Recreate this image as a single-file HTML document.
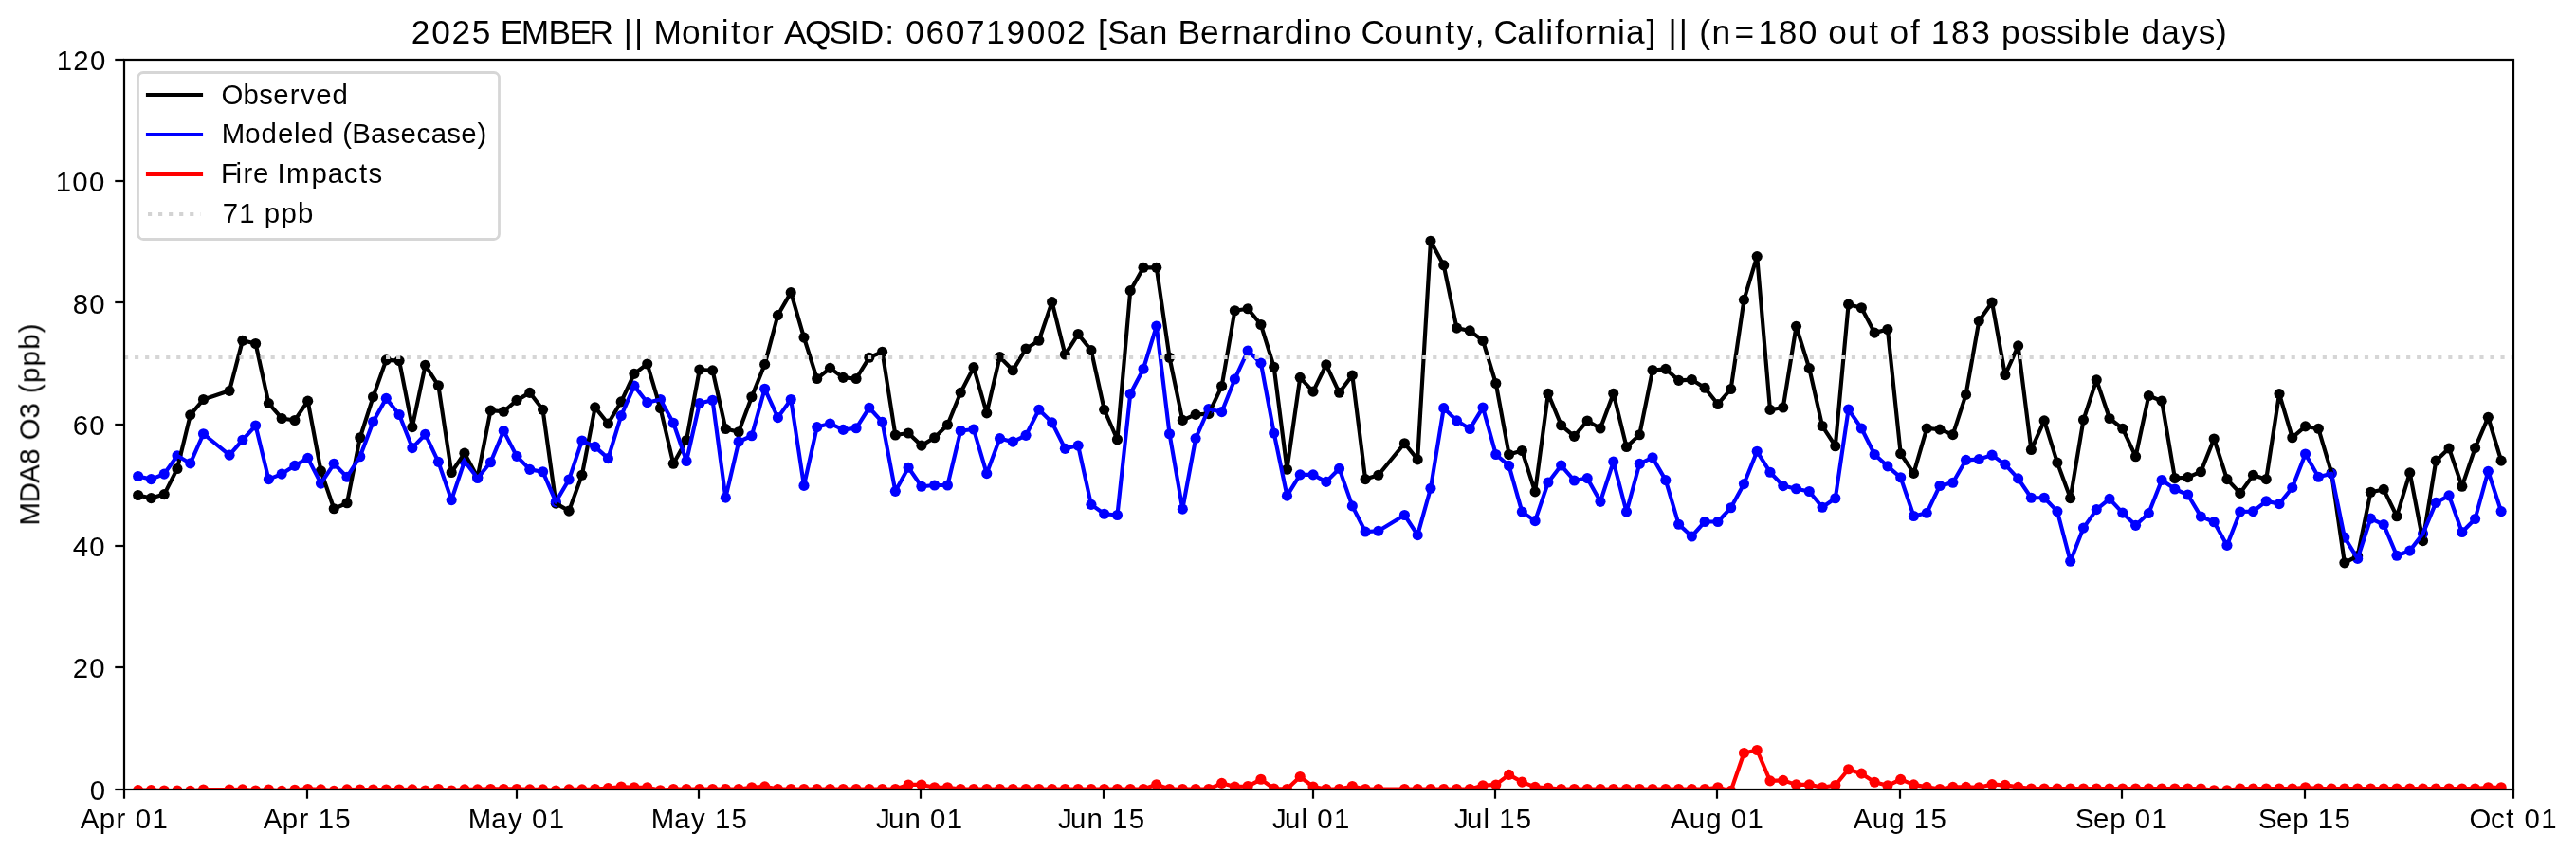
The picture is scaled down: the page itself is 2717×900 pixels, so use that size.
<!DOCTYPE html>
<html lang="en">
<head>
<meta charset="utf-8">
<title>2025 EMBER - Monitor AQSID 060719002 - MDA8 O3</title>
<style>
html,body{margin:0;padding:0;background:#fff;}
body{width:2717px;height:900px;overflow:hidden;font-family:"Liberation Sans",sans-serif;}
svg{display:block;}
text{font-family:"Liberation Sans",sans-serif;fill:#000;}
.ln{fill:none;stroke-width:4.17;stroke-linejoin:round;stroke-linecap:square;}
.sp{stroke:#000;stroke-width:2.22;fill:none;stroke-linecap:square;}
.tk{stroke:#000;stroke-width:2.22;fill:none;stroke-linecap:butt;}
</style>
</head>
<body>
<svg width="2717" height="900" viewBox="0 0 2717 900">
<rect x="0" y="0" width="2717" height="900" fill="#fff"/>
<defs><clipPath id="ax"><rect x="131" y="63" width="2520" height="770"/></clipPath></defs>
<g clip-path="url(#ax)">
<g id="obs-pts" fill="#000000"><circle cx="145.67" cy="522.46" r="5.56"/><circle cx="159.44" cy="525.6" r="5.56"/><circle cx="173.21" cy="521.62" r="5.56"/><circle cx="186.98" cy="494.5" r="5.56"/><circle cx="200.75" cy="437.87" r="5.56"/><circle cx="214.52" cy="421.52" r="5.56"/><circle cx="242.06" cy="412.35" r="5.56"/><circle cx="255.83" cy="359.32" r="5.56"/><circle cx="269.6" cy="362.53" r="5.56"/><circle cx="283.38" cy="425.56" r="5.56"/><circle cx="297.15" cy="441.47" r="5.56"/><circle cx="310.92" cy="443.45" r="5.56"/><circle cx="324.69" cy="423.13" r="5.56"/><circle cx="338.46" cy="496.93" r="5.56"/><circle cx="352.23" cy="536.76" r="5.56"/><circle cx="366" cy="530.79" r="5.56"/><circle cx="379.77" cy="461.79" r="5.56"/><circle cx="393.54" cy="418.77" r="5.56"/><circle cx="407.31" cy="379.84" r="5.56"/><circle cx="421.08" cy="380.61" r="5.56"/><circle cx="434.85" cy="450.64" r="5.56"/><circle cx="448.62" cy="385.29" r="5.56"/><circle cx="462.39" cy="406.77" r="5.56"/><circle cx="476.16" cy="498.47" r="5.56"/><circle cx="489.93" cy="478.15" r="5.56"/><circle cx="503.7" cy="503.54" r="5.56"/><circle cx="517.47" cy="433.13" r="5.56"/><circle cx="531.24" cy="434.28" r="5.56"/><circle cx="545.01" cy="422.36" r="5.56"/><circle cx="558.79" cy="414.34" r="5.56"/><circle cx="572.56" cy="432.3" r="5.56"/><circle cx="586.33" cy="531.18" r="5.56"/><circle cx="600.1" cy="539.13" r="5.56"/><circle cx="613.87" cy="501.23" r="5.56"/><circle cx="627.64" cy="429.86" r="5.56"/><circle cx="641.41" cy="446.98" r="5.56"/><circle cx="655.18" cy="423.9" r="5.56"/><circle cx="668.95" cy="394.4" r="5.56"/><circle cx="682.72" cy="384.01" r="5.56"/><circle cx="696.49" cy="430.63" r="5.56"/><circle cx="710.26" cy="489.24" r="5.56"/><circle cx="724.03" cy="464.55" r="5.56"/><circle cx="737.8" cy="389.97" r="5.56"/><circle cx="751.57" cy="390.81" r="5.56"/><circle cx="765.34" cy="452.56" r="5.56"/><circle cx="779.11" cy="455.77" r="5.56"/><circle cx="792.88" cy="418.7" r="5.56"/><circle cx="806.65" cy="384.39" r="5.56"/><circle cx="820.42" cy="332.58" r="5.56"/><circle cx="834.2" cy="308.66" r="5.56"/><circle cx="847.97" cy="356.12" r="5.56"/><circle cx="861.74" cy="399.53" r="5.56"/><circle cx="875.51" cy="388.37" r="5.56"/><circle cx="889.28" cy="398.37" r="5.56"/><circle cx="903.05" cy="399.53" r="5.56"/><circle cx="916.82" cy="377.21" r="5.56"/><circle cx="930.59" cy="371.25" r="5.56"/><circle cx="944.36" cy="458.97" r="5.56"/><circle cx="958.13" cy="456.98" r="5.56"/><circle cx="971.9" cy="470.13" r="5.56"/><circle cx="985.67" cy="461.73" r="5.56"/><circle cx="999.44" cy="448.2" r="5.56"/><circle cx="1013.21" cy="414.28" r="5.56"/><circle cx="1026.98" cy="387.6" r="5.56"/><circle cx="1040.75" cy="435.82" r="5.56"/><circle cx="1054.52" cy="376.44" r="5.56"/><circle cx="1068.29" cy="390.81" r="5.56"/><circle cx="1082.06" cy="368.04" r="5.56"/><circle cx="1095.83" cy="359.26" r="5.56"/><circle cx="1109.6" cy="318.6" r="5.56"/><circle cx="1123.38" cy="374.01" r="5.56"/><circle cx="1137.15" cy="352.52" r="5.56"/><circle cx="1150.92" cy="369.65" r="5.56"/><circle cx="1164.69" cy="432.23" r="5.56"/><circle cx="1178.46" cy="463.72" r="5.56"/><circle cx="1192.23" cy="306.68" r="5.56"/><circle cx="1206" cy="282.31" r="5.56"/><circle cx="1219.77" cy="282.31" r="5.56"/><circle cx="1233.54" cy="377.21" r="5.56"/><circle cx="1247.31" cy="443.39" r="5.56"/><circle cx="1261.08" cy="437.43" r="5.56"/><circle cx="1274.85" cy="436.66" r="5.56"/><circle cx="1288.62" cy="407.54" r="5.56"/><circle cx="1302.39" cy="327.77" r="5.56"/><circle cx="1316.16" cy="325.78" r="5.56"/><circle cx="1329.93" cy="342.52" r="5.56"/><circle cx="1343.7" cy="387.22" r="5.56"/><circle cx="1357.47" cy="495.27" r="5.56"/><circle cx="1371.24" cy="398.37" r="5.56"/><circle cx="1385.01" cy="413.12" r="5.56"/><circle cx="1398.79" cy="384.78" r="5.56"/><circle cx="1412.56" cy="414.28" r="5.56"/><circle cx="1426.33" cy="395.94" r="5.56"/><circle cx="1440.1" cy="505.59" r="5.56"/><circle cx="1453.87" cy="501.23" r="5.56"/><circle cx="1481.41" cy="467.76" r="5.56"/><circle cx="1495.18" cy="484.88" r="5.56"/><circle cx="1508.95" cy="254.28" r="5.56"/><circle cx="1522.72" cy="279.93" r="5.56"/><circle cx="1536.49" cy="346.11" r="5.56"/><circle cx="1550.26" cy="348.93" r="5.56"/><circle cx="1564.03" cy="359.45" r="5.56"/><circle cx="1577.8" cy="404.53" r="5.56"/><circle cx="1591.57" cy="479.49" r="5.56"/><circle cx="1605.34" cy="475.52" r="5.56"/><circle cx="1619.11" cy="518.93" r="5.56"/><circle cx="1632.88" cy="415.3" r="5.56"/><circle cx="1646.65" cy="448.78" r="5.56"/><circle cx="1660.42" cy="460.32" r="5.56"/><circle cx="1674.2" cy="443.97" r="5.56"/><circle cx="1687.97" cy="451.98" r="5.56"/><circle cx="1701.74" cy="415.3" r="5.56"/><circle cx="1715.51" cy="471.48" r="5.56"/><circle cx="1729.28" cy="458.78" r="5.56"/><circle cx="1743.05" cy="390.55" r="5.56"/><circle cx="1756.82" cy="389.4" r="5.56"/><circle cx="1770.59" cy="401.32" r="5.56"/><circle cx="1784.36" cy="400.55" r="5.56"/><circle cx="1798.13" cy="409.28" r="5.56"/><circle cx="1811.9" cy="426.46" r="5.56"/><circle cx="1825.67" cy="410.49" r="5.56"/><circle cx="1839.44" cy="316.42" r="5.56"/><circle cx="1853.21" cy="270.57" r="5.56"/><circle cx="1866.98" cy="432.42" r="5.56"/><circle cx="1880.75" cy="430.05" r="5.56"/><circle cx="1894.52" cy="344.32" r="5.56"/><circle cx="1908.29" cy="388.56" r="5.56"/><circle cx="1922.06" cy="449.55" r="5.56"/><circle cx="1935.83" cy="470.71" r="5.56"/><circle cx="1949.6" cy="321.17" r="5.56"/><circle cx="1963.38" cy="324.76" r="5.56"/><circle cx="1977.15" cy="351.11" r="5.56"/><circle cx="1990.92" cy="347.52" r="5.56"/><circle cx="2004.69" cy="478.66" r="5.56"/><circle cx="2018.46" cy="499.43" r="5.56"/><circle cx="2032.23" cy="451.98" r="5.56"/><circle cx="2046" cy="453.07" r="5.56"/><circle cx="2059.77" cy="458.65" r="5.56"/><circle cx="2073.54" cy="416.39" r="5.56"/><circle cx="2087.31" cy="338.61" r="5.56"/><circle cx="2101.08" cy="319.05" r="5.56"/><circle cx="2114.85" cy="395.62" r="5.56"/><circle cx="2128.62" cy="364.9" r="5.56"/><circle cx="2142.39" cy="474.55" r="5.56"/><circle cx="2156.16" cy="443.9" r="5.56"/><circle cx="2169.93" cy="488.15" r="5.56"/><circle cx="2183.7" cy="525.6" r="5.56"/><circle cx="2197.47" cy="443.07" r="5.56"/><circle cx="2211.24" cy="400.81" r="5.56"/><circle cx="2225.01" cy="441.47" r="5.56"/><circle cx="2238.79" cy="452.24" r="5.56"/><circle cx="2252.56" cy="481.74" r="5.56"/><circle cx="2266.33" cy="417.55" r="5.56"/><circle cx="2280.1" cy="423.13" r="5.56"/><circle cx="2293.87" cy="504.5" r="5.56"/><circle cx="2307.64" cy="503.67" r="5.56"/><circle cx="2321.41" cy="497.7" r="5.56"/><circle cx="2335.18" cy="463.01" r="5.56"/><circle cx="2348.95" cy="505.65" r="5.56"/><circle cx="2362.72" cy="520.4" r="5.56"/><circle cx="2376.49" cy="501.29" r="5.56"/><circle cx="2390.26" cy="505.65" r="5.56"/><circle cx="2404.03" cy="415.56" r="5.56"/><circle cx="2417.8" cy="461.79" r="5.56"/><circle cx="2431.57" cy="449.87" r="5.56"/><circle cx="2445.34" cy="452.24" r="5.56"/><circle cx="2459.11" cy="498.92" r="5.56"/><circle cx="2472.88" cy="593.83" r="5.56"/><circle cx="2486.65" cy="586.64" r="5.56"/><circle cx="2500.42" cy="519.25" r="5.56"/><circle cx="2514.2" cy="516.43" r="5.56"/><circle cx="2527.97" cy="544.77" r="5.56"/><circle cx="2541.74" cy="498.92" r="5.56"/><circle cx="2555.51" cy="570.68" r="5.56"/><circle cx="2569.28" cy="486.16" r="5.56"/><circle cx="2583.05" cy="472.95" r="5.56"/><circle cx="2596.82" cy="513.22" r="5.56"/><circle cx="2610.59" cy="472.57" r="5.56"/><circle cx="2624.36" cy="440.31" r="5.56"/><circle cx="2638.13" cy="486.16" r="5.56"/></g>
<g id="mod-pts" fill="#0000ff"><circle cx="145.67" cy="502.51" r="5.56"/><circle cx="159.44" cy="505.65" r="5.56"/><circle cx="173.21" cy="500.08" r="5.56"/><circle cx="186.98" cy="480.77" r="5.56"/><circle cx="200.75" cy="488.92" r="5.56"/><circle cx="214.52" cy="457.75" r="5.56"/><circle cx="242.06" cy="480.13" r="5.56"/><circle cx="255.83" cy="464.23" r="5.56"/><circle cx="269.6" cy="449.03" r="5.56"/><circle cx="283.38" cy="505.65" r="5.56"/><circle cx="297.15" cy="500.08" r="5.56"/><circle cx="310.92" cy="491.36" r="5.56"/><circle cx="324.69" cy="483.34" r="5.56"/><circle cx="338.46" cy="510.08" r="5.56"/><circle cx="352.23" cy="489.3" r="5.56"/><circle cx="366" cy="503.28" r="5.56"/><circle cx="379.77" cy="481.74" r="5.56"/><circle cx="393.54" cy="445.06" r="5.56"/><circle cx="407.31" cy="420.37" r="5.56"/><circle cx="421.08" cy="437.49" r="5.56"/><circle cx="434.85" cy="472.57" r="5.56"/><circle cx="448.62" cy="458.2" r="5.56"/><circle cx="462.39" cy="487.32" r="5.56"/><circle cx="476.16" cy="527.59" r="5.56"/><circle cx="489.93" cy="486.55" r="5.56"/><circle cx="503.7" cy="504.5" r="5.56"/><circle cx="517.47" cy="487.76" r="5.56"/><circle cx="531.24" cy="454.61" r="5.56"/><circle cx="545.01" cy="481.35" r="5.56"/><circle cx="558.79" cy="495.33" r="5.56"/><circle cx="572.56" cy="497.7" r="5.56"/><circle cx="586.33" cy="529.57" r="5.56"/><circle cx="600.1" cy="506.04" r="5.56"/><circle cx="613.87" cy="464.94" r="5.56"/><circle cx="627.64" cy="471.35" r="5.56"/><circle cx="641.41" cy="483.66" r="5.56"/><circle cx="655.18" cy="438.64" r="5.56"/><circle cx="668.95" cy="407.16" r="5.56"/><circle cx="682.72" cy="424.67" r="5.56"/><circle cx="696.49" cy="421.46" r="5.56"/><circle cx="710.26" cy="446.21" r="5.56"/><circle cx="724.03" cy="486.48" r="5.56"/><circle cx="737.8" cy="425.5" r="5.56"/><circle cx="751.57" cy="422.29" r="5.56"/><circle cx="765.34" cy="525.15" r="5.56"/><circle cx="779.11" cy="466.15" r="5.56"/><circle cx="792.88" cy="459.74" r="5.56"/><circle cx="806.65" cy="410.3" r="5.56"/><circle cx="820.42" cy="440.63" r="5.56"/><circle cx="834.2" cy="421.46" r="5.56"/><circle cx="847.97" cy="512.39" r="5.56"/><circle cx="861.74" cy="450.57" r="5.56"/><circle cx="875.51" cy="446.98" r="5.56"/><circle cx="889.28" cy="453.39" r="5.56"/><circle cx="903.05" cy="451.79" r="5.56"/><circle cx="916.82" cy="430.24" r="5.56"/><circle cx="930.59" cy="445.38" r="5.56"/><circle cx="944.36" cy="518.35" r="5.56"/><circle cx="958.13" cy="493.28" r="5.56"/><circle cx="971.9" cy="513.22" r="5.56"/><circle cx="985.67" cy="512" r="5.56"/><circle cx="999.44" cy="512" r="5.56"/><circle cx="1013.21" cy="454.55" r="5.56"/><circle cx="1026.98" cy="453.01" r="5.56"/><circle cx="1040.75" cy="499.63" r="5.56"/><circle cx="1054.52" cy="462.56" r="5.56"/><circle cx="1068.29" cy="466.15" r="5.56"/><circle cx="1082.06" cy="459.36" r="5.56"/><circle cx="1095.83" cy="432.23" r="5.56"/><circle cx="1109.6" cy="445.83" r="5.56"/><circle cx="1123.38" cy="473.34" r="5.56"/><circle cx="1137.15" cy="470.13" r="5.56"/><circle cx="1150.92" cy="532.33" r="5.56"/><circle cx="1164.69" cy="542.27" r="5.56"/><circle cx="1178.46" cy="543.49" r="5.56"/><circle cx="1192.23" cy="415.5" r="5.56"/><circle cx="1206" cy="389.2" r="5.56"/><circle cx="1219.77" cy="344.12" r="5.56"/><circle cx="1233.54" cy="457.75" r="5.56"/><circle cx="1247.31" cy="537.14" r="5.56"/><circle cx="1261.08" cy="462.56" r="5.56"/><circle cx="1274.85" cy="431.46" r="5.56"/><circle cx="1288.62" cy="434.67" r="5.56"/><circle cx="1302.39" cy="399.98" r="5.56"/><circle cx="1316.16" cy="370.03" r="5.56"/><circle cx="1329.93" cy="383.18" r="5.56"/><circle cx="1343.7" cy="456.98" r="5.56"/><circle cx="1357.47" cy="523.16" r="5.56"/><circle cx="1371.24" cy="500.85" r="5.56"/><circle cx="1385.01" cy="500.85" r="5.56"/><circle cx="1398.79" cy="508.41" r="5.56"/><circle cx="1412.56" cy="494.43" r="5.56"/><circle cx="1426.33" cy="533.93" r="5.56"/><circle cx="1440.1" cy="561.06" r="5.56"/><circle cx="1453.87" cy="560.23" r="5.56"/><circle cx="1481.41" cy="543.49" r="5.56"/><circle cx="1495.18" cy="564.65" r="5.56"/><circle cx="1508.95" cy="515.21" r="5.56"/><circle cx="1522.72" cy="430.63" r="5.56"/><circle cx="1536.49" cy="443.84" r="5.56"/><circle cx="1550.26" cy="452.56" r="5.56"/><circle cx="1564.03" cy="430.05" r="5.56"/><circle cx="1577.8" cy="479.49" r="5.56"/><circle cx="1591.57" cy="491.42" r="5.56"/><circle cx="1605.34" cy="540.09" r="5.56"/><circle cx="1619.11" cy="549.64" r="5.56"/><circle cx="1632.88" cy="508.99" r="5.56"/><circle cx="1646.65" cy="491.03" r="5.56"/><circle cx="1660.42" cy="507" r="5.56"/><circle cx="1674.2" cy="504.63" r="5.56"/><circle cx="1687.97" cy="529.32" r="5.56"/><circle cx="1701.74" cy="487.06" r="5.56"/><circle cx="1715.51" cy="540.09" r="5.56"/><circle cx="1729.28" cy="489.43" r="5.56"/><circle cx="1743.05" cy="482.7" r="5.56"/><circle cx="1756.82" cy="506.62" r="5.56"/><circle cx="1770.59" cy="553.24" r="5.56"/><circle cx="1784.36" cy="566" r="5.56"/><circle cx="1798.13" cy="550.48" r="5.56"/><circle cx="1811.9" cy="550.48" r="5.56"/><circle cx="1825.67" cy="535.73" r="5.56"/><circle cx="1839.44" cy="510.59" r="5.56"/><circle cx="1853.21" cy="476.29" r="5.56"/><circle cx="1866.98" cy="498.22" r="5.56"/><circle cx="1880.75" cy="512.58" r="5.56"/><circle cx="1894.52" cy="515.79" r="5.56"/><circle cx="1908.29" cy="518.54" r="5.56"/><circle cx="1922.06" cy="535.28" r="5.56"/><circle cx="1935.83" cy="525.73" r="5.56"/><circle cx="1949.6" cy="432.04" r="5.56"/><circle cx="1963.38" cy="451.98" r="5.56"/><circle cx="1977.15" cy="479.49" r="5.56"/><circle cx="1990.92" cy="491.87" r="5.56"/><circle cx="2004.69" cy="503.8" r="5.56"/><circle cx="2018.46" cy="544.45" r="5.56"/><circle cx="2032.23" cy="541.31" r="5.56"/><circle cx="2046" cy="512.45" r="5.56"/><circle cx="2059.77" cy="509.25" r="5.56"/><circle cx="2073.54" cy="485.33" r="5.56"/><circle cx="2087.31" cy="484.56" r="5.56"/><circle cx="2101.08" cy="480.13" r="5.56"/><circle cx="2114.85" cy="490.14" r="5.56"/><circle cx="2128.62" cy="504.89" r="5.56"/><circle cx="2142.39" cy="525.21" r="5.56"/><circle cx="2156.16" cy="525.21" r="5.56"/><circle cx="2169.93" cy="539.58" r="5.56"/><circle cx="2183.7" cy="592.22" r="5.56"/><circle cx="2197.47" cy="557.08" r="5.56"/><circle cx="2211.24" cy="537.59" r="5.56"/><circle cx="2225.01" cy="526.43" r="5.56"/><circle cx="2238.79" cy="541.18" r="5.56"/><circle cx="2252.56" cy="554.33" r="5.56"/><circle cx="2266.33" cy="541.56" r="5.56"/><circle cx="2280.1" cy="506.49" r="5.56"/><circle cx="2293.87" cy="516.04" r="5.56"/><circle cx="2307.64" cy="522.01" r="5.56"/><circle cx="2321.41" cy="545.16" r="5.56"/><circle cx="2335.18" cy="550.73" r="5.56"/><circle cx="2348.95" cy="575.42" r="5.56"/><circle cx="2362.72" cy="539.96" r="5.56"/><circle cx="2376.49" cy="539.58" r="5.56"/><circle cx="2390.26" cy="528.8" r="5.56"/><circle cx="2404.03" cy="531.63" r="5.56"/><circle cx="2417.8" cy="514.44" r="5.56"/><circle cx="2431.57" cy="478.98" r="5.56"/><circle cx="2445.34" cy="503.28" r="5.56"/><circle cx="2459.11" cy="499.69" r="5.56"/><circle cx="2472.88" cy="567.09" r="5.56"/><circle cx="2486.65" cy="589.4" r="5.56"/><circle cx="2500.42" cy="547.14" r="5.56"/><circle cx="2514.2" cy="553.56" r="5.56"/><circle cx="2527.97" cy="586.2" r="5.56"/><circle cx="2541.74" cy="581.07" r="5.56"/><circle cx="2555.51" cy="563.11" r="5.56"/><circle cx="2569.28" cy="530.41" r="5.56"/><circle cx="2583.05" cy="522.84" r="5.56"/><circle cx="2596.82" cy="561.51" r="5.56"/><circle cx="2610.59" cy="547.53" r="5.56"/><circle cx="2624.36" cy="497.32" r="5.56"/><circle cx="2638.13" cy="539.58" r="5.56"/></g>
<g id="fire-pts" fill="#ff0000"><circle cx="145.67" cy="833.59" r="5.56"/><circle cx="159.44" cy="833.59" r="5.56"/><circle cx="173.21" cy="834.04" r="5.56"/><circle cx="186.98" cy="834.04" r="5.56"/><circle cx="200.75" cy="834.42" r="5.56"/><circle cx="214.52" cy="833.01" r="5.56"/><circle cx="242.06" cy="833.01" r="5.56"/><circle cx="255.83" cy="832.82" r="5.56"/><circle cx="269.6" cy="834.04" r="5.56"/><circle cx="283.38" cy="833.01" r="5.56"/><circle cx="297.15" cy="834.42" r="5.56"/><circle cx="310.92" cy="833.21" r="5.56"/><circle cx="324.69" cy="832.44" r="5.56"/><circle cx="338.46" cy="832.82" r="5.56"/><circle cx="352.23" cy="834.42" r="5.56"/><circle cx="366" cy="832.82" r="5.56"/><circle cx="379.77" cy="833.01" r="5.56"/><circle cx="393.54" cy="833.01" r="5.56"/><circle cx="407.31" cy="833.01" r="5.56"/><circle cx="421.08" cy="833.01" r="5.56"/><circle cx="434.85" cy="832.82" r="5.56"/><circle cx="448.62" cy="834.04" r="5.56"/><circle cx="462.39" cy="832.44" r="5.56"/><circle cx="476.16" cy="834.04" r="5.56"/><circle cx="489.93" cy="832.82" r="5.56"/><circle cx="503.7" cy="832.82" r="5.56"/><circle cx="517.47" cy="832.44" r="5.56"/><circle cx="531.24" cy="832.44" r="5.56"/><circle cx="545.01" cy="832.44" r="5.56"/><circle cx="558.79" cy="832.82" r="5.56"/><circle cx="572.56" cy="832.82" r="5.56"/><circle cx="586.33" cy="834.04" r="5.56"/><circle cx="600.1" cy="832.82" r="5.56"/><circle cx="613.87" cy="832.82" r="5.56"/><circle cx="627.64" cy="832.5" r="5.56"/><circle cx="641.41" cy="831.6" r="5.56"/><circle cx="655.18" cy="830" r="5.56"/><circle cx="668.95" cy="830.77" r="5.56"/><circle cx="682.72" cy="830.77" r="5.56"/><circle cx="696.49" cy="833.78" r="5.56"/><circle cx="710.26" cy="832.5" r="5.56"/><circle cx="724.03" cy="832.5" r="5.56"/><circle cx="737.8" cy="832.5" r="5.56"/><circle cx="751.57" cy="832.5" r="5.56"/><circle cx="765.34" cy="832.5" r="5.56"/><circle cx="779.11" cy="832.5" r="5.56"/><circle cx="792.88" cy="830.77" r="5.56"/><circle cx="806.65" cy="829.81" r="5.56"/><circle cx="820.42" cy="832.5" r="5.56"/><circle cx="834.2" cy="832.5" r="5.56"/><circle cx="847.97" cy="832.5" r="5.56"/><circle cx="861.74" cy="832.5" r="5.56"/><circle cx="875.51" cy="832.5" r="5.56"/><circle cx="889.28" cy="832.5" r="5.56"/><circle cx="903.05" cy="832.5" r="5.56"/><circle cx="916.82" cy="832.5" r="5.56"/><circle cx="930.59" cy="832.5" r="5.56"/><circle cx="944.36" cy="832.5" r="5.56"/><circle cx="958.13" cy="827.95" r="5.56"/><circle cx="971.9" cy="827.95" r="5.56"/><circle cx="985.67" cy="830.77" r="5.56"/><circle cx="999.44" cy="830.77" r="5.56"/><circle cx="1013.21" cy="832.5" r="5.56"/><circle cx="1026.98" cy="832.5" r="5.56"/><circle cx="1040.75" cy="832.5" r="5.56"/><circle cx="1054.52" cy="832.5" r="5.56"/><circle cx="1068.29" cy="832.5" r="5.56"/><circle cx="1082.06" cy="832.5" r="5.56"/><circle cx="1095.83" cy="832.5" r="5.56"/><circle cx="1109.6" cy="832.5" r="5.56"/><circle cx="1123.38" cy="832.5" r="5.56"/><circle cx="1137.15" cy="832.5" r="5.56"/><circle cx="1150.92" cy="832.5" r="5.56"/><circle cx="1164.69" cy="832.5" r="5.56"/><circle cx="1178.46" cy="832.5" r="5.56"/><circle cx="1192.23" cy="832.5" r="5.56"/><circle cx="1206" cy="832.5" r="5.56"/><circle cx="1219.77" cy="827.75" r="5.56"/><circle cx="1233.54" cy="832.5" r="5.56"/><circle cx="1247.31" cy="832.5" r="5.56"/><circle cx="1261.08" cy="832.5" r="5.56"/><circle cx="1274.85" cy="832.5" r="5.56"/><circle cx="1288.62" cy="826.34" r="5.56"/><circle cx="1302.39" cy="830" r="5.56"/><circle cx="1316.16" cy="829.55" r="5.56"/><circle cx="1329.93" cy="822.3" r="5.56"/><circle cx="1343.7" cy="831.99" r="5.56"/><circle cx="1357.47" cy="832.5" r="5.56"/><circle cx="1371.24" cy="819.48" r="5.56"/><circle cx="1385.01" cy="830" r="5.56"/><circle cx="1398.79" cy="832.5" r="5.56"/><circle cx="1412.56" cy="832.5" r="5.56"/><circle cx="1426.33" cy="829.55" r="5.56"/><circle cx="1440.1" cy="832.5" r="5.56"/><circle cx="1453.87" cy="832.5" r="5.56"/><circle cx="1481.41" cy="832.5" r="5.56"/><circle cx="1495.18" cy="832.5" r="5.56"/><circle cx="1508.95" cy="832.5" r="5.56"/><circle cx="1522.72" cy="832.5" r="5.56"/><circle cx="1536.49" cy="832.5" r="5.56"/><circle cx="1550.26" cy="832.5" r="5.56"/><circle cx="1564.03" cy="828.78" r="5.56"/><circle cx="1577.8" cy="827.95" r="5.56"/><circle cx="1591.57" cy="817.43" r="5.56"/><circle cx="1605.34" cy="825.13" r="5.56"/><circle cx="1619.11" cy="830.38" r="5.56"/><circle cx="1632.88" cy="831.22" r="5.56"/><circle cx="1646.65" cy="832.5" r="5.56"/><circle cx="1660.42" cy="832.5" r="5.56"/><circle cx="1674.2" cy="832.5" r="5.56"/><circle cx="1687.97" cy="832.5" r="5.56"/><circle cx="1701.74" cy="832.5" r="5.56"/><circle cx="1715.51" cy="832.5" r="5.56"/><circle cx="1729.28" cy="832.5" r="5.56"/><circle cx="1743.05" cy="832.5" r="5.56"/><circle cx="1756.82" cy="832.5" r="5.56"/><circle cx="1770.59" cy="832.5" r="5.56"/><circle cx="1784.36" cy="832.5" r="5.56"/><circle cx="1798.13" cy="832.5" r="5.56"/><circle cx="1811.9" cy="830.77" r="5.56"/><circle cx="1825.67" cy="834.42" r="5.56"/><circle cx="1839.44" cy="794.54" r="5.56"/><circle cx="1853.21" cy="791.52" r="5.56"/><circle cx="1866.98" cy="823.84" r="5.56"/><circle cx="1880.75" cy="823.39" r="5.56"/><circle cx="1894.52" cy="827.88" r="5.56"/><circle cx="1908.29" cy="827.88" r="5.56"/><circle cx="1922.06" cy="830.77" r="5.56"/><circle cx="1935.83" cy="828.46" r="5.56"/><circle cx="1949.6" cy="811.72" r="5.56"/><circle cx="1963.38" cy="816.15" r="5.56"/><circle cx="1977.15" cy="825.25" r="5.56"/><circle cx="1990.92" cy="828.84" r="5.56"/><circle cx="2004.69" cy="822.43" r="5.56"/><circle cx="2018.46" cy="827.88" r="5.56"/><circle cx="2032.23" cy="830.38" r="5.56"/><circle cx="2046" cy="832.5" r="5.56"/><circle cx="2059.77" cy="830.38" r="5.56"/><circle cx="2073.54" cy="830.38" r="5.56"/><circle cx="2087.31" cy="830.77" r="5.56"/><circle cx="2101.08" cy="827.56" r="5.56"/><circle cx="2114.85" cy="828.4" r="5.56"/><circle cx="2128.62" cy="830.38" r="5.56"/><circle cx="2142.39" cy="831.99" r="5.56"/><circle cx="2156.16" cy="831.99" r="5.56"/><circle cx="2169.93" cy="831.99" r="5.56"/><circle cx="2183.7" cy="831.99" r="5.56"/><circle cx="2197.47" cy="831.99" r="5.56"/><circle cx="2211.24" cy="831.99" r="5.56"/><circle cx="2225.01" cy="831.99" r="5.56"/><circle cx="2238.79" cy="831.99" r="5.56"/><circle cx="2252.56" cy="831.99" r="5.56"/><circle cx="2266.33" cy="831.99" r="5.56"/><circle cx="2280.1" cy="831.99" r="5.56"/><circle cx="2293.87" cy="831.99" r="5.56"/><circle cx="2307.64" cy="831.99" r="5.56"/><circle cx="2321.41" cy="831.99" r="5.56"/><circle cx="2335.18" cy="833.78" r="5.56"/><circle cx="2348.95" cy="833.78" r="5.56"/><circle cx="2362.72" cy="831.99" r="5.56"/><circle cx="2376.49" cy="831.99" r="5.56"/><circle cx="2390.26" cy="831.99" r="5.56"/><circle cx="2404.03" cy="831.99" r="5.56"/><circle cx="2417.8" cy="831.99" r="5.56"/><circle cx="2431.57" cy="830.77" r="5.56"/><circle cx="2445.34" cy="831.99" r="5.56"/><circle cx="2459.11" cy="831.99" r="5.56"/><circle cx="2472.88" cy="831.99" r="5.56"/><circle cx="2486.65" cy="831.99" r="5.56"/><circle cx="2500.42" cy="831.99" r="5.56"/><circle cx="2514.2" cy="831.99" r="5.56"/><circle cx="2527.97" cy="831.99" r="5.56"/><circle cx="2541.74" cy="831.99" r="5.56"/><circle cx="2555.51" cy="831.99" r="5.56"/><circle cx="2569.28" cy="831.99" r="5.56"/><circle cx="2583.05" cy="831.99" r="5.56"/><circle cx="2596.82" cy="831.99" r="5.56"/><circle cx="2610.59" cy="831.99" r="5.56"/><circle cx="2624.36" cy="830.77" r="5.56"/><circle cx="2638.13" cy="830.77" r="5.56"/></g>
<polyline id="obs-line" class="ln" stroke="#000000" points="145.67,522.46 159.44,525.6 173.21,521.62 186.98,494.5 200.75,437.87 214.52,421.52 242.06,412.35 255.83,359.32 269.6,362.53 283.38,425.56 297.15,441.47 310.92,443.45 324.69,423.13 338.46,496.93 352.23,536.76 366,530.79 379.77,461.79 393.54,418.77 407.31,379.84 421.08,380.61 434.85,450.64 448.62,385.29 462.39,406.77 476.16,498.47 489.93,478.15 503.7,503.54 517.47,433.13 531.24,434.28 545.01,422.36 558.79,414.34 572.56,432.3 586.33,531.18 600.1,539.13 613.87,501.23 627.64,429.86 641.41,446.98 655.18,423.9 668.95,394.4 682.72,384.01 696.49,430.63 710.26,489.24 724.03,464.55 737.8,389.97 751.57,390.81 765.34,452.56 779.11,455.77 792.88,418.7 806.65,384.39 820.42,332.58 834.2,308.66 847.97,356.12 861.74,399.53 875.51,388.37 889.28,398.37 903.05,399.53 916.82,377.21 930.59,371.25 944.36,458.97 958.13,456.98 971.9,470.13 985.67,461.73 999.44,448.2 1013.21,414.28 1026.98,387.6 1040.75,435.82 1054.52,376.44 1068.29,390.81 1082.06,368.04 1095.83,359.26 1109.6,318.6 1123.38,374.01 1137.15,352.52 1150.92,369.65 1164.69,432.23 1178.46,463.72 1192.23,306.68 1206,282.31 1219.77,282.31 1233.54,377.21 1247.31,443.39 1261.08,437.43 1274.85,436.66 1288.62,407.54 1302.39,327.77 1316.16,325.78 1329.93,342.52 1343.7,387.22 1357.47,495.27 1371.24,398.37 1385.01,413.12 1398.79,384.78 1412.56,414.28 1426.33,395.94 1440.1,505.59 1453.87,501.23 1481.41,467.76 1495.18,484.88 1508.95,254.28 1522.72,279.93 1536.49,346.11 1550.26,348.93 1564.03,359.45 1577.8,404.53 1591.57,479.49 1605.34,475.52 1619.11,518.93 1632.88,415.3 1646.65,448.78 1660.42,460.32 1674.2,443.97 1687.97,451.98 1701.74,415.3 1715.51,471.48 1729.28,458.78 1743.05,390.55 1756.82,389.4 1770.59,401.32 1784.36,400.55 1798.13,409.28 1811.9,426.46 1825.67,410.49 1839.44,316.42 1853.21,270.57 1866.98,432.42 1880.75,430.05 1894.52,344.32 1908.29,388.56 1922.06,449.55 1935.83,470.71 1949.6,321.17 1963.38,324.76 1977.15,351.11 1990.92,347.52 2004.69,478.66 2018.46,499.43 2032.23,451.98 2046,453.07 2059.77,458.65 2073.54,416.39 2087.31,338.61 2101.08,319.05 2114.85,395.62 2128.62,364.9 2142.39,474.55 2156.16,443.9 2169.93,488.15 2183.7,525.6 2197.47,443.07 2211.24,400.81 2225.01,441.47 2238.79,452.24 2252.56,481.74 2266.33,417.55 2280.1,423.13 2293.87,504.5 2307.64,503.67 2321.41,497.7 2335.18,463.01 2348.95,505.65 2362.72,520.4 2376.49,501.29 2390.26,505.65 2404.03,415.56 2417.8,461.79 2431.57,449.87 2445.34,452.24 2459.11,498.92 2472.88,593.83 2486.65,586.64 2500.42,519.25 2514.2,516.43 2527.97,544.77 2541.74,498.92 2555.51,570.68 2569.28,486.16 2583.05,472.95 2596.82,513.22 2610.59,472.57 2624.36,440.31 2638.13,486.16"/>
<polyline id="mod-line" class="ln" stroke="#0000ff" points="145.67,502.51 159.44,505.65 173.21,500.08 186.98,480.77 200.75,488.92 214.52,457.75 242.06,480.13 255.83,464.23 269.6,449.03 283.38,505.65 297.15,500.08 310.92,491.36 324.69,483.34 338.46,510.08 352.23,489.3 366,503.28 379.77,481.74 393.54,445.06 407.31,420.37 421.08,437.49 434.85,472.57 448.62,458.2 462.39,487.32 476.16,527.59 489.93,486.55 503.7,504.5 517.47,487.76 531.24,454.61 545.01,481.35 558.79,495.33 572.56,497.7 586.33,529.57 600.1,506.04 613.87,464.94 627.64,471.35 641.41,483.66 655.18,438.64 668.95,407.16 682.72,424.67 696.49,421.46 710.26,446.21 724.03,486.48 737.8,425.5 751.57,422.29 765.34,525.15 779.11,466.15 792.88,459.74 806.65,410.3 820.42,440.63 834.2,421.46 847.97,512.39 861.74,450.57 875.51,446.98 889.28,453.39 903.05,451.79 916.82,430.24 930.59,445.38 944.36,518.35 958.13,493.28 971.9,513.22 985.67,512 999.44,512 1013.21,454.55 1026.98,453.01 1040.75,499.63 1054.52,462.56 1068.29,466.15 1082.06,459.36 1095.83,432.23 1109.6,445.83 1123.38,473.34 1137.15,470.13 1150.92,532.33 1164.69,542.27 1178.46,543.49 1192.23,415.5 1206,389.2 1219.77,344.12 1233.54,457.75 1247.31,537.14 1261.08,462.56 1274.85,431.46 1288.62,434.67 1302.39,399.98 1316.16,370.03 1329.93,383.18 1343.7,456.98 1357.47,523.16 1371.24,500.85 1385.01,500.85 1398.79,508.41 1412.56,494.43 1426.33,533.93 1440.1,561.06 1453.87,560.23 1481.41,543.49 1495.18,564.65 1508.95,515.21 1522.72,430.63 1536.49,443.84 1550.26,452.56 1564.03,430.05 1577.8,479.49 1591.57,491.42 1605.34,540.09 1619.11,549.64 1632.88,508.99 1646.65,491.03 1660.42,507 1674.2,504.63 1687.97,529.32 1701.74,487.06 1715.51,540.09 1729.28,489.43 1743.05,482.7 1756.82,506.62 1770.59,553.24 1784.36,566 1798.13,550.48 1811.9,550.48 1825.67,535.73 1839.44,510.59 1853.21,476.29 1866.98,498.22 1880.75,512.58 1894.52,515.79 1908.29,518.54 1922.06,535.28 1935.83,525.73 1949.6,432.04 1963.38,451.98 1977.15,479.49 1990.92,491.87 2004.69,503.8 2018.46,544.45 2032.23,541.31 2046,512.45 2059.77,509.25 2073.54,485.33 2087.31,484.56 2101.08,480.13 2114.85,490.14 2128.62,504.89 2142.39,525.21 2156.16,525.21 2169.93,539.58 2183.7,592.22 2197.47,557.08 2211.24,537.59 2225.01,526.43 2238.79,541.18 2252.56,554.33 2266.33,541.56 2280.1,506.49 2293.87,516.04 2307.64,522.01 2321.41,545.16 2335.18,550.73 2348.95,575.42 2362.72,539.96 2376.49,539.58 2390.26,528.8 2404.03,531.63 2417.8,514.44 2431.57,478.98 2445.34,503.28 2459.11,499.69 2472.88,567.09 2486.65,589.4 2500.42,547.14 2514.2,553.56 2527.97,586.2 2541.74,581.07 2555.51,563.11 2569.28,530.41 2583.05,522.84 2596.82,561.51 2610.59,547.53 2624.36,497.32 2638.13,539.58"/>
<polyline id="fire-line" class="ln" stroke="#ff0000" points="145.67,833.59 159.44,833.59 173.21,834.04 186.98,834.04 200.75,834.42 214.52,833.01 242.06,833.01 255.83,832.82 269.6,834.04 283.38,833.01 297.15,834.42 310.92,833.21 324.69,832.44 338.46,832.82 352.23,834.42 366,832.82 379.77,833.01 393.54,833.01 407.31,833.01 421.08,833.01 434.85,832.82 448.62,834.04 462.39,832.44 476.16,834.04 489.93,832.82 503.7,832.82 517.47,832.44 531.24,832.44 545.01,832.44 558.79,832.82 572.56,832.82 586.33,834.04 600.1,832.82 613.87,832.82 627.64,832.5 641.41,831.6 655.18,830 668.95,830.77 682.72,830.77 696.49,833.78 710.26,832.5 724.03,832.5 737.8,832.5 751.57,832.5 765.34,832.5 779.11,832.5 792.88,830.77 806.65,829.81 820.42,832.5 834.2,832.5 847.97,832.5 861.74,832.5 875.51,832.5 889.28,832.5 903.05,832.5 916.82,832.5 930.59,832.5 944.36,832.5 958.13,827.95 971.9,827.95 985.67,830.77 999.44,830.77 1013.21,832.5 1026.98,832.5 1040.75,832.5 1054.52,832.5 1068.29,832.5 1082.06,832.5 1095.83,832.5 1109.6,832.5 1123.38,832.5 1137.15,832.5 1150.92,832.5 1164.69,832.5 1178.46,832.5 1192.23,832.5 1206,832.5 1219.77,827.75 1233.54,832.5 1247.31,832.5 1261.08,832.5 1274.85,832.5 1288.62,826.34 1302.39,830 1316.16,829.55 1329.93,822.3 1343.7,831.99 1357.47,832.5 1371.24,819.48 1385.01,830 1398.79,832.5 1412.56,832.5 1426.33,829.55 1440.1,832.5 1453.87,832.5 1481.41,832.5 1495.18,832.5 1508.95,832.5 1522.72,832.5 1536.49,832.5 1550.26,832.5 1564.03,828.78 1577.8,827.95 1591.57,817.43 1605.34,825.13 1619.11,830.38 1632.88,831.22 1646.65,832.5 1660.42,832.5 1674.2,832.5 1687.97,832.5 1701.74,832.5 1715.51,832.5 1729.28,832.5 1743.05,832.5 1756.82,832.5 1770.59,832.5 1784.36,832.5 1798.13,832.5 1811.9,830.77 1825.67,834.42 1839.44,794.54 1853.21,791.52 1866.98,823.84 1880.75,823.39 1894.52,827.88 1908.29,827.88 1922.06,830.77 1935.83,828.46 1949.6,811.72 1963.38,816.15 1977.15,825.25 1990.92,828.84 2004.69,822.43 2018.46,827.88 2032.23,830.38 2046,832.5 2059.77,830.38 2073.54,830.38 2087.31,830.77 2101.08,827.56 2114.85,828.4 2128.62,830.38 2142.39,831.99 2156.16,831.99 2169.93,831.99 2183.7,831.99 2197.47,831.99 2211.24,831.99 2225.01,831.99 2238.79,831.99 2252.56,831.99 2266.33,831.99 2280.1,831.99 2293.87,831.99 2307.64,831.99 2321.41,831.99 2335.18,833.78 2348.95,833.78 2362.72,831.99 2376.49,831.99 2390.26,831.99 2404.03,831.99 2417.8,831.99 2431.57,830.77 2445.34,831.99 2459.11,831.99 2472.88,831.99 2486.65,831.99 2500.42,831.99 2514.2,831.99 2527.97,831.99 2541.74,831.99 2555.51,831.99 2569.28,831.99 2583.05,831.99 2596.82,831.99 2610.59,831.99 2624.36,830.77 2638.13,830.77"/>
<line x1="131" y1="377" x2="2651" y2="377" stroke="#d6d6d6" stroke-width="4.17" stroke-dasharray="4.1667 6.875"/>
</g>
<rect class="sp" x="131" y="63" width="2520" height="770" stroke-linejoin="miter"/>
<g class="tk"><line x1="131" y1="833" x2="131" y2="842.72"/><line x1="324" y1="833" x2="324" y2="842.72"/><line x1="545" y1="833" x2="545" y2="842.72"/><line x1="737" y1="833" x2="737" y2="842.72"/><line x1="971" y1="833" x2="971" y2="842.72"/><line x1="1164" y1="833" x2="1164" y2="842.72"/><line x1="1385" y1="833" x2="1385" y2="842.72"/><line x1="1577" y1="833" x2="1577" y2="842.72"/><line x1="1811" y1="833" x2="1811" y2="842.72"/><line x1="2004" y1="833" x2="2004" y2="842.72"/><line x1="2238" y1="833" x2="2238" y2="842.72"/><line x1="2431" y1="833" x2="2431" y2="842.72"/><line x1="2651" y1="833" x2="2651" y2="842.72"/><line x1="131" y1="63" x2="121.28" y2="63"/><line x1="131" y1="191" x2="121.28" y2="191"/><line x1="131" y1="319" x2="121.28" y2="319"/><line x1="131" y1="448" x2="121.28" y2="448"/><line x1="131" y1="576" x2="121.28" y2="576"/><line x1="131" y1="704" x2="121.28" y2="704"/><line x1="131" y1="833" x2="121.28" y2="833"/></g>
<g id="legend">
<rect x="145.5" y="76.5" width="381" height="176" rx="5.56" ry="5.56" fill="#fff" fill-opacity="0.8" stroke="#cccccc" stroke-opacity="0.8" stroke-width="2.8"/>
<line x1="153.92" y1="100" x2="214.08" y2="100" stroke="#000000" stroke-width="4.17"/>
<line x1="153.92" y1="142" x2="214.08" y2="142" stroke="#0000ff" stroke-width="4.17"/>
<line x1="153.92" y1="184" x2="214.08" y2="184" stroke="#ff0000" stroke-width="4.17"/>
<line x1="156" y1="226" x2="211.56" y2="226" stroke="#d3d3d3" stroke-width="4.17" stroke-dasharray="4.1667 6.875"/>
</g>
<g id="labels" opacity="0.999">
<text y="46.33" font-size="35.27"><tspan x="433.84 455.21 476.46 497.84">2025</tspan> <tspan x="527.65 549.69 578.4 600.4 621.59">EMBER</tspan> <tspan x="657.66 668.91">||</tspan> <tspan x="689.44 718.92 739.8 760.83 771.02 782.8 803.89">Monitor</tspan> <tspan x="826.9 848.91 874.56 897.02 906.84 933.23">AQSID:</tspan> <tspan x="955.21 976.46 997.71 1018.96 1040.21 1061.46 1082.71 1103.96 1125.21">060719002</tspan> <tspan x="1157.98 1168.19 1191 1211.8">[San</tspan> <tspan x="1242.4 1266.09 1287.14 1300.05 1320.75 1341.76 1354.67 1375.83 1385.17 1405.92">Bernardino</tspan> <tspan x="1435.51 1460.3 1481.17 1502.3 1524.27 1536.68 1555.77">County,</tspan> <tspan x="1575.51 1600.25 1620.95 1630.2 1640.02 1650.92 1672.01 1684.92 1705.95 1714.88 1736.48">California]</tspan> <tspan x="1759.54 1770.79">||</tspan> <tspan x="1792.26 1805.42 1829.39 1854.46 1875.71 1896.84">(n=180</tspan> <tspan x="1928.3 1949.17 1971.15">out</tspan> <tspan x="1993.55 2014.9">of</tspan> <tspan x="2036.84 2058.09 2079.21">183</tspan> <tspan x="2111.05 2131.92 2151.85 2169.22 2187.45 2196.8 2217.95 2226.96">possible</tspan> <tspan x="2258.42 2279.25 2300.31 2318.85 2337.01">days)</tspan></text>
<text transform="translate(41.32 554.31) rotate(-90)" font-size="29.39"><tspan x="-0.25 24.08 44.58 64.57">MDA8</tspan> <tspan x="89.89 112.82">O3</tspan> <tspan x="139.28 150.16 167.79 185.41 202.91">(ppb)</tspan></text>
<text y="873.94" font-size="29.39"><tspan x="84.7 104.66 122.47">Apr</tspan> <tspan x="142.7 160.45">01</tspan></text>
<text y="873.94" font-size="29.39"><tspan x="277.7 297.66 315.47">Apr</tspan> <tspan x="335.7 353.32">15</tspan></text>
<text y="873.94" font-size="29.39"><tspan x="493.75 518.31 535.88">May</tspan> <tspan x="560.95 578.7">01</tspan></text>
<text y="873.94" font-size="29.39"><tspan x="686.75 711.31 728.88">May</tspan> <tspan x="753.95 771.57">15</tspan></text>
<text y="873.94" font-size="29.39"><tspan x="924.02 936.91 954.54">Jun</tspan> <tspan x="981.07 998.82">01</tspan></text>
<text y="873.94" font-size="29.39"><tspan x="1116.02 1128.91 1146.54">Jun</tspan> <tspan x="1173.07 1190.7">15</tspan></text>
<text y="873.94" font-size="29.39"><tspan x="1342.02 1354.91 1372.46">Jul</tspan> <tspan x="1389.2 1406.95">01</tspan></text>
<text y="873.94" font-size="29.39"><tspan x="1534.02 1546.91 1564.46">Jul</tspan> <tspan x="1581.2 1598.82">15</tspan></text>
<text y="873.94" font-size="29.39"><tspan x="1761.7 1781.66 1799.29">Aug</tspan> <tspan x="1825.82 1843.57">01</tspan></text>
<text y="873.94" font-size="29.39"><tspan x="1954.7 1974.66 1992.29">Aug</tspan> <tspan x="2018.82 2036.45">15</tspan></text>
<text y="873.94" font-size="29.39"><tspan x="2189.01 2208.01 2225.29">Sep</tspan> <tspan x="2251.82 2269.57">01</tspan></text>
<text y="873.94" font-size="29.39"><tspan x="2382.01 2401.01 2418.29">Sep</tspan> <tspan x="2444.82 2462.45">15</tspan></text>
<text y="873.94" font-size="29.39"><tspan x="2604.51 2627.04 2643.37">Oct</tspan> <tspan x="2662.45 2680.2">01</tspan></text>
<text y="843.5" font-size="29.39"><tspan x="94.7">0</tspan></text>
<text y="715.25" font-size="29.39"><tspan x="76.7 94.32">20</tspan></text>
<text y="587" font-size="29.39"><tspan x="76.7 94.32">40</tspan></text>
<text y="458.75" font-size="29.39"><tspan x="76.7 94.32">60</tspan></text>
<text y="330.5" font-size="29.39"><tspan x="76.7 94.32">80</tspan></text>
<text y="202.25" font-size="29.39"><tspan x="58.7 76.32 94.07">100</tspan></text>
<text y="74" font-size="29.39"><tspan x="59.7 77.32 94.95">120</tspan></text>
<text y="109.5" font-size="29.39"><tspan x="233.51 256.41 273.25 288.26 305.72 317.26 333.14 350.41">Observed</tspan></text>
<text y="151.39" font-size="29.39"><tspan x="233.75 258.35 275.54 292.89 310.08 317.64 334.91">Modeled</tspan> <tspan x="361.28 371.2 390.94 407.5 422.51 439.42 454.69 471.25 486.26 503.41">(Basecase)</tspan></text>
<text y="193.28" font-size="29.39"><tspan x="233.02 248.58 256.59 267.01">Fire</tspan> <tspan x="292.52 302.06 328.54 345.81 362.79 379.12 388.5">Impacts</tspan></text>
<text y="235.17" font-size="29.39"><tspan x="234.7 252.32">71</tspan> <tspan x="278.79 296.41 314.04">ppb</tspan></text>
</g>
</svg>
</body>
</html>
